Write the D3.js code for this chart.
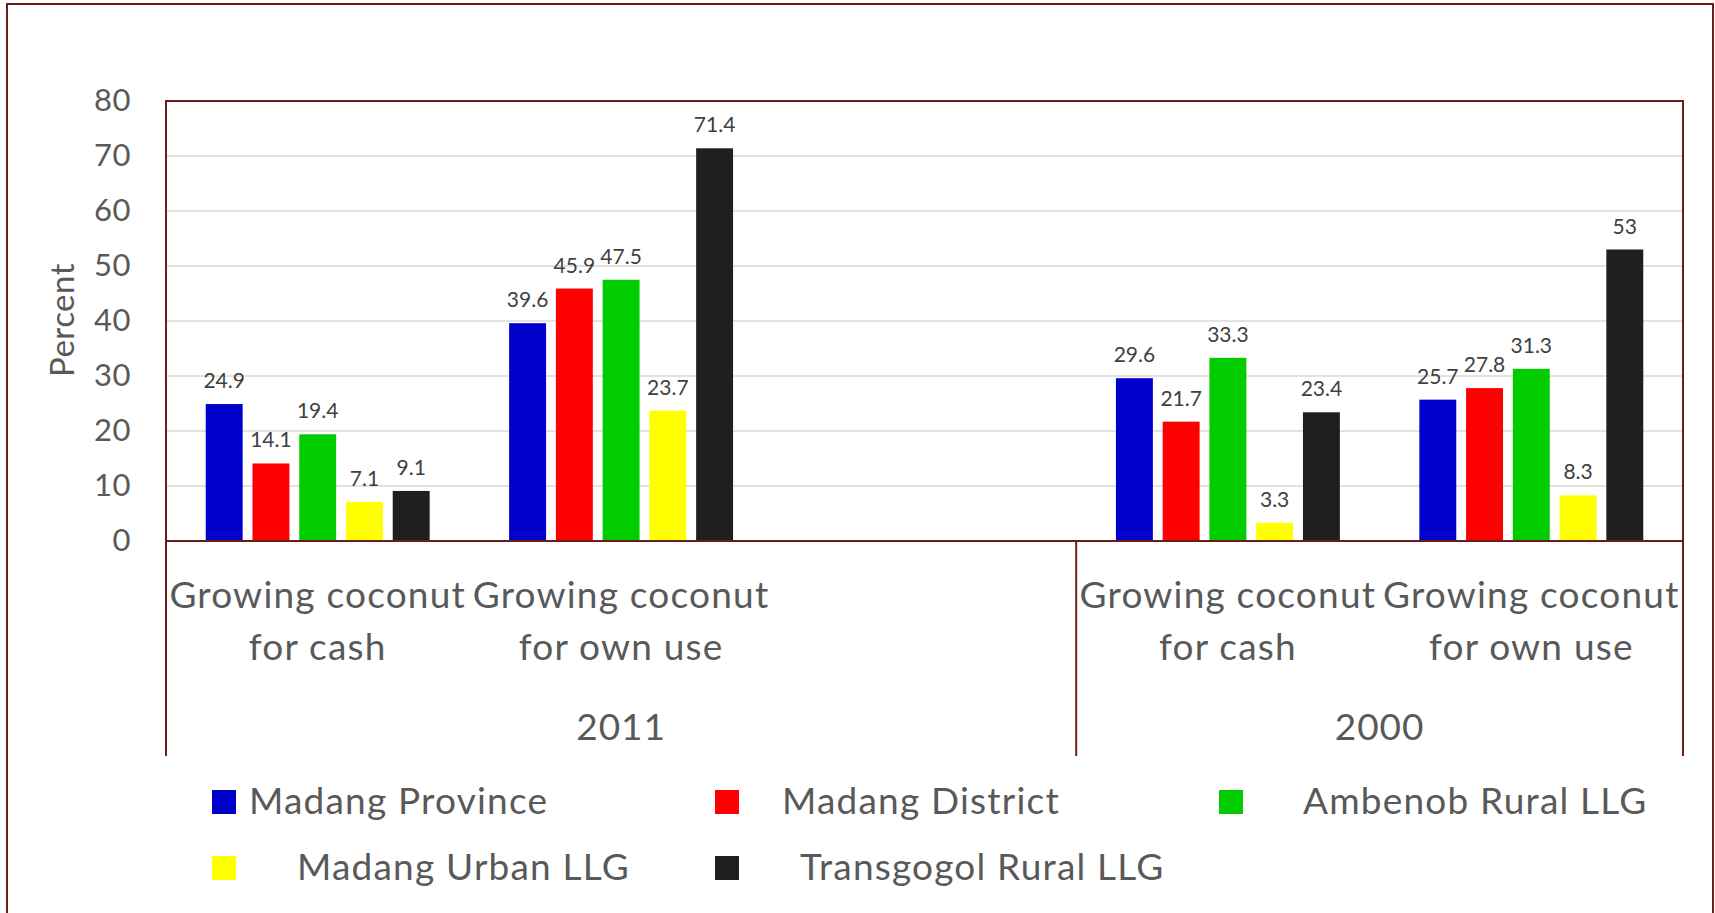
<!DOCTYPE html>
<html>
<head>
<meta charset="utf-8">
<script src="https://cdn.jsdelivr.net/npm/d3@7"></script>
<style>
  body { margin: 0; background: #fff; }
  text { font-family: Lato, 'Open Sans', sans-serif; }
</style>
</head>
<body>
<svg id="canvas"></svg>
<script>
// Categories (the third slot in 2011 is an empty category in the source chart)
var categoryKeys = ['2011-cash', '2011-own', '2011-empty', '2000-cash', '2000-own'];
var categoryLines = [
  ['Growing coconut', 'for cash'],
  ['Growing coconut', 'for own use'],
  [],
  ['Growing coconut', 'for cash'],
  ['Growing coconut', 'for own use']
];
var categoryYears = ['2011', '2011', '2011', '2000', '2000'];
var years = ['2011', '2000'];

// Series
var seriesNames = ['Madang Province', 'Madang District', 'Ambenob Rural LLG', 'Madang Urban LLG', 'Transgogol Rural LLG'];
var madangProvince = [24.9, 39.6, null, 29.6, 25.7];
var madangDistrict = [14.1, 45.9, null, 21.7, 27.8];
var ambenobRural = [19.4, 47.5, null, 33.3, 31.3];
var madangUrban = [7.1, 23.7, null, 3.3, 8.3];
var transgogolRural = [9.1, 71.4, null, 23.4, 53];
var seriesValues = [madangProvince, madangDistrict, ambenobRural, madangUrban, transgogolRural];

var yTicks = [0, 10, 20, 30, 40, 50, 60, 70, 80];

// Styling
var seriesColors = ['#0000cc', '#ff0000', '#00cc00', '#ffff00', '#1f1f1f'];
var maroon = '#6e1b1b';
var textGray = '#595959';

// Canvas size
var canvasWidth = 1715;
var canvasHeight = 913;

// Plot area
var plot = { left: 166, right: 1683, top: 101, bottom: 541 };
var groupLineBottom = 756;

// Legend layout
var legendCols = [212, 715, 1219];
var legendRows = [802, 868];
var legendTextGap = [37, 67, 84, 85, 85];

var svg = d3.select('#canvas')
  .attr('width', canvasWidth)
  .attr('height', canvasHeight);

// Outer chart border
svg.append('rect')
  .attr('x', 7)
  .attr('y', 4)
  .attr('width', 1706)
  .attr('height', 940)
  .attr('fill', 'none')
  .attr('stroke', maroon)
  .attr('stroke-width', 2);

// Scales
var xScale = d3.scaleBand()
  .domain(categoryKeys)
  .range([plot.left, plot.right]);

var innerScale = d3.scaleBand()
  .domain(seriesNames)
  .range([0, xScale.bandwidth()])
  .paddingInner(0.21)
  .paddingOuter(0.85);

var yScale = d3.scaleLinear()
  .domain([0, 80])
  .range([plot.bottom, plot.top]);

// Gridlines
svg.append('g')
  .attr('class', 'grid')
  .selectAll('line')
  .data(yTicks.filter(function(d) { return d > 0 && d < 80; }))
  .enter()
  .append('line')
  .attr('x1', plot.left)
  .attr('x2', plot.right)
  .attr('y1', function(d) { return yScale(d); })
  .attr('y2', function(d) { return yScale(d); })
  .attr('stroke', '#d9d9d9')
  .attr('stroke-width', 1.5);

// Y axis labels
var yAxis = d3.axisLeft(yScale)
  .tickValues(yTicks)
  .tickSize(0)
  .tickPadding(35);

var yAxisGroup = svg.append('g')
  .attr('class', 'y-axis')
  .attr('transform', 'translate(' + plot.left + ',0)')
  .call(yAxis);

yAxisGroup.select('.domain').remove();
yAxisGroup.selectAll('text')
  .attr('font-family', 'Lato, sans-serif')
  .attr('font-size', 31)
  .attr('letter-spacing', 0.5)
  .attr('fill', textGray);

svg.append('text')
  .attr('transform', 'translate(74,320) rotate(-90)')
  .attr('text-anchor', 'middle')
  .attr('font-size', 33)
  .attr('letter-spacing', 0.5)
  .attr('fill', textGray)
  .text('Percent');

// Bars
var seriesGroups = svg.append('g')
  .attr('class', 'bars')
  .selectAll('g')
  .data(seriesNames)
  .enter()
  .append('g')
  .attr('fill', function(d, i) { return seriesColors[i]; });

seriesGroups.selectAll('rect')
  .data(function(name, i) {
    return categoryKeys.map(function(key, j) {
      return { key: key, name: name, value: seriesValues[i][j] };
    }).filter(function(d) { return d.value !== null; });
  })
  .enter()
  .append('rect')
  .attr('x', function(d) { return xScale(d.key) + innerScale(d.name); })
  .attr('y', function(d) { return yScale(d.value); })
  .attr('width', innerScale.bandwidth())
  .attr('height', function(d) { return yScale(0) - yScale(d.value); });

// Value labels
seriesGroups.selectAll('text')
  .data(function(name, i) {
    return categoryKeys.map(function(key, j) {
      return { key: key, name: name, value: seriesValues[i][j] };
    }).filter(function(d) { return d.value !== null; });
  })
  .enter()
  .append('text')
  .attr('x', function(d) { return xScale(d.key) + innerScale(d.name) + innerScale.bandwidth() / 2; })
  .attr('y', function(d) { return yScale(d.value) - 16; })
  .attr('text-anchor', 'middle')
  .attr('font-size', 21)
  .attr('fill', '#404040')
  .text(function(d) { return d.value; });

// Plot frame
svg.append('rect')
  .attr('x', plot.left)
  .attr('y', plot.top)
  .attr('width', plot.right - plot.left)
  .attr('height', plot.bottom - plot.top)
  .attr('fill', 'none')
  .attr('stroke', maroon)
  .attr('stroke-width', 2);

// Group separators under the axis
var separators = [plot.left, xScale('2000-cash'), plot.right];
svg.append('g')
  .selectAll('line')
  .data(separators)
  .enter()
  .append('line')
  .attr('x1', function(d) { return d; })
  .attr('x2', function(d) { return d; })
  .attr('y1', plot.bottom)
  .attr('y2', groupLineBottom)
  .attr('stroke', maroon)
  .attr('stroke-width', 2);

// Category labels
var catLabels = svg.append('g')
  .selectAll('text')
  .data(categoryKeys)
  .enter()
  .append('text')
  .attr('text-anchor', 'middle')
  .attr('font-size', 37)
  .attr('letter-spacing', 1.2)
  .attr('fill', textGray);

catLabels.selectAll('tspan')
  .data(function(d, i) { return categoryLines[i]; })
  .enter()
  .append('tspan')
  .attr('x', function() {
    var key = d3.select(this.parentNode).datum();
    return xScale(key) + xScale.bandwidth() / 2;
  })
  .attr('y', function(d, i) { return 608 + i * 52; })
  .text(function(d) { return d; });

// Year labels
svg.append('g')
  .selectAll('text')
  .data(years)
  .enter()
  .append('text')
  .attr('x', function(year) {
    var centers = categoryKeys.filter(function(k, i) { return categoryYears[i] === year; })
      .map(function(k) { return xScale(k) + xScale.bandwidth() / 2; });
    return d3.mean(centers);
  })
  .attr('y', 740)
  .attr('text-anchor', 'middle')
  .attr('font-size', 37)
  .attr('letter-spacing', 1)
  .attr('fill', textGray)
  .text(function(d) { return d; });

// Legend
var legendItems = svg.append('g')
  .attr('class', 'legend')
  .selectAll('g')
  .data(seriesNames)
  .enter()
  .append('g')
  .attr('transform', function(d, i) {
    return 'translate(' + legendCols[i % 3] + ',' + legendRows[Math.floor(i / 3)] + ')';
  });

legendItems.append('rect')
  .attr('x', 0)
  .attr('y', -12)
  .attr('width', 24)
  .attr('height', 24)
  .attr('fill', function(d, i) { return seriesColors[i]; });

legendItems.append('text')
  .attr('x', function(d, i) { return legendTextGap[i]; })
  .attr('y', 12)
  .attr('font-size', 37)
  .attr('letter-spacing', 1.2)
  .attr('fill', textGray)
  .text(function(d) { return d; });
</script>
</body>
</html>
